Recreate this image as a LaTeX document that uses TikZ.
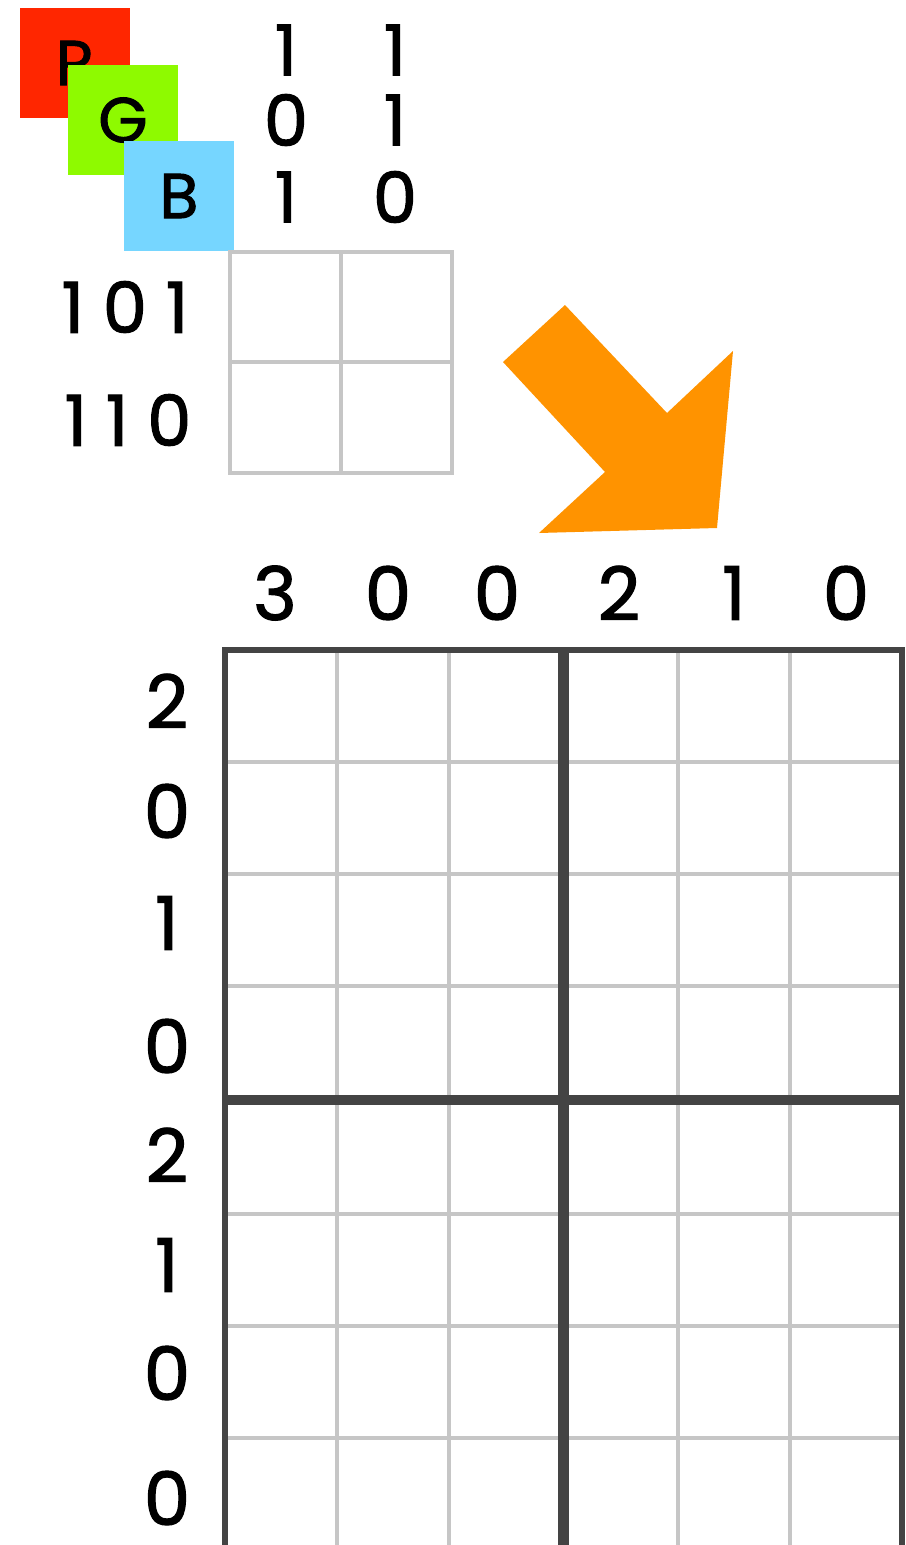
\documentclass[tikz,border=0pt]{standalone}
\usepackage{fontspec}
\setmainfont{Poppins}[FakeBold=1.6]
\usepackage{tikz}

\definecolor{chanR}{HTML}{FF2600}
\definecolor{chanG}{HTML}{8EFA00}
\definecolor{chanB}{HTML}{76D6FF}
\definecolor{arroworange}{HTML}{FF9300}
\definecolor{cellgray}{HTML}{C6C6C6}
\definecolor{blockgray}{HTML}{444444}

\begin{document}
\begin{tikzpicture}[
  x=0.01cm, y=-0.01cm,
  chan/.style={rectangle, minimum size=1.1cm, inner sep=0pt,
               font=\fontsize{18}{20}\selectfont},
  bits/.style={inner sep=0pt, font=\fontsize{20}{24}\selectfont},
  num/.style={inner sep=0pt, font=\fontsize{21}{25}\selectfont},
  cell/.style={draw=cellgray, line width=1.1pt},
  block/.style={draw=blockgray, line width=1.5pt}
]
\useasboundingbox (0,0) rectangle (905,1545);

%% ---- RGB channels ----
\node[chan, fill=chanR] at (75,63)   (R) {R};
\node[chan, fill=chanG] at (123,120) (G) {G};
\node[chan, fill=chanB] at (179,196) (B) {B};

%% ---- small 2x2 ----
\draw[cell, line width=0.9pt] (230,252) rectangle (452,473);
\draw[cell, line width=0.9pt] (341,252) -- (341,473);
\draw[cell, line width=0.9pt] (230,362) -- (452,362);

\node[bits] at (286,50)  (c1a) {1};
\node[bits] at (286,120) (c1b) {0};
\node[bits] at (286,197) (c1c) {1};
\node[bits] at (395,50)  (c2a) {1};
\node[bits] at (395,120) (c2b) {1};
\node[bits] at (395,197) (c2c) {0};

\node[bits] at (125,307) (r1) {1 0 1};
\node[bits] at (128,420) (r2) {1 1 0};

%% ---- arrow ----
\fill[arroworange] (565,305) -- (667,413) -- (733,351) -- (717,528)
  -- (539,533) -- (605,472) -- (503,362) -- cycle;

%% ---- big grid, 4 blocks of 3x4 ----
\foreach \bx in {225,566} {
  \foreach \by in {650,1102} {
    \foreach \k in {1,2}
      \draw[cell] (\bx+\k*112,\by) -- (\bx+\k*112,\by+448);
    \foreach \k in {1,2,3}
      \draw[cell] (\bx,\by+\k*112) -- (\bx+336,\by+\k*112);
    \draw[block] (\bx,\by) rectangle (\bx+336,\by+448);
  }
}

%% ---- grid labels ----
\node[num] at (275,593) (t1) {3};
\node[num] at (388,593) (t2) {0};
\node[num] at (497,593) (t3) {0};
\node[num] at (619,593) (t4) {2};
\node[num] at (734,593) (t5) {1};
\node[num] at (846,593) (t6) {0};

\node[num] at (167,701)  (l1) {2};
\node[num] at (167,811)  (l2) {0};
\node[num] at (167,923)  (l3) {1};
\node[num] at (167,1046) (l4) {0};
\node[num] at (167,1155) (l5) {2};
\node[num] at (167,1265) (l6) {1};
\node[num] at (167,1373) (l7) {0};
\node[num] at (167,1498) (l8) {0};
\end{tikzpicture}
\end{document}
